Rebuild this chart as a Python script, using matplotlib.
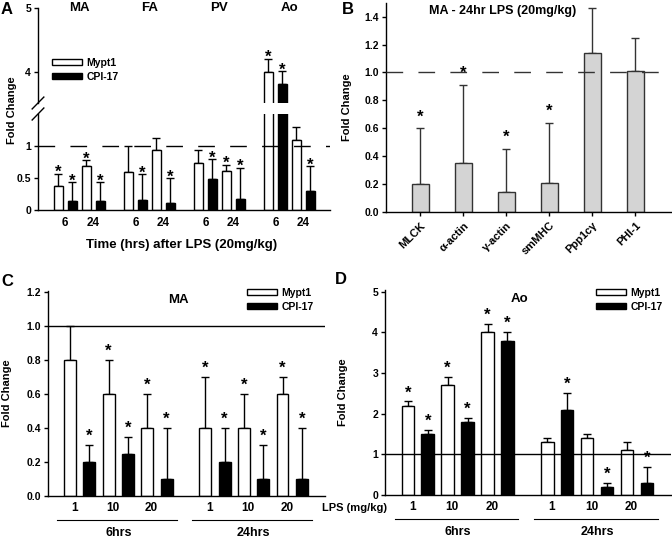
import matplotlib
matplotlib.use('Agg')
import matplotlib.pyplot as plt
import matplotlib.transforms as mtransforms
from matplotlib.patches import Patch
import numpy as np

plt.rcParams['font.family'] = ['Liberation Sans', 'DejaVu Sans']
plt.rcParams['font.weight'] = 'bold'
plt.rcParams['axes.labelweight'] = 'bold'
plt.rcParams['axes.linewidth'] = 1.0

# ---------------- data ----------------
# Panel A (20 mg/kg LPS), order of tissues
a_tissues = ['MA', 'FA', 'PV', 'Ao']
a_time_labels = ['6', '24']
a_mypt1_6h = [0.38, 0.59, 0.73, 4.00]
a_mypt1_6h_err = [0.19, 0.41, 0.20, 0.21]
a_mypt1_6h_star = [1, 0, 0, 1]
a_cpi_6h = [0.14, 0.16, 0.49, 3.82]
a_cpi_6h_err = [0.29, 0.40, 0.30, 0.19]
a_cpi_6h_star = [1, 1, 1, 1]
a_mypt1_24h = [0.68, 0.93, 0.61, 1.10]
a_mypt1_24h_err = [0.10, 0.20, 0.10, 0.20]
a_mypt1_24h_star = [1, 0, 1, 0]
a_cpi_24h = [0.14, 0.11, 0.17, 0.30]
a_cpi_24h_err = [0.29, 0.39, 0.49, 0.39]
a_cpi_24h_star = [1, 1, 1, 1]

# Panel B
b_genes = ['MLCK', 'α-actin', 'γ-actin', 'smMHC', 'Ppp1cγ', 'PHI-1']
b_vals = [0.20, 0.35, 0.14, 0.21, 1.14, 1.01]
b_err = [0.40, 0.56, 0.31, 0.43, 0.32, 0.24]
b_star = [1, 1, 1, 1, 0, 0]

# Panels C / D: doses within 6hrs and 24hrs
cd_doses = ['1', '10', '20', '1', '10', '20']
cd_groups = ['6hrs', '24hrs']
c_mypt1 = [0.8, 0.6, 0.4, 0.4, 0.4, 0.6]
c_mypt1_err = [0.2, 0.2, 0.2, 0.3, 0.2, 0.1]
c_mypt1_star = [0, 1, 1, 1, 1, 1]
c_cpi = [0.2, 0.25, 0.1, 0.2, 0.1, 0.1]
c_cpi_err = [0.1, 0.1, 0.3, 0.2, 0.2, 0.3]
c_cpi_star = [1, 1, 1, 1, 1, 1]

d_mypt1 = [2.2, 2.7, 4.0, 1.3, 1.4, 1.1]
d_mypt1_err = [0.1, 0.2, 0.2, 0.1, 0.1, 0.2]
d_mypt1_star = [1, 1, 1, 0, 0, 0]
d_cpi = [1.5, 1.8, 3.8, 2.1, 0.2, 0.3]
d_cpi_err = [0.1, 0.1, 0.2, 0.4, 0.1, 0.4]
d_cpi_star = [1, 1, 1, 1, 1, 1]

# ---------------- layout helpers ----------------
W, H = 672, 541
fig = plt.figure(figsize=(W / 100, H / 100), dpi=100)


def rect(x0, y0, x1, y1):
    return [x0 / W, 1 - y1 / H, (x1 - x0) / W, (y1 - y0) / H]


def ftext(x, y, s, **kw):
    fig.text(x / W, 1 - y / H, s, **kw)


TICK_FS = 7.5
STAR_FS = 12
DASH = (0, (12, 11))


def style_axes(ax):
    for s in ['top', 'right']:
        ax.spines[s].set_visible(False)
    ax.tick_params(axis='y', direction='out', length=3, width=1, labelsize=TICK_FS, pad=2)
    ax.tick_params(axis='x', length=0, labelsize=TICK_FS + 1)


def bars(ax, x, vals, errs, stars, color, edge='black', width=0.62, ecolor='black',
         star_off=-3.0):
    ax.bar(x, vals, width=width, color=color, edgecolor=edge, linewidth=1.0, zorder=2)
    ax.errorbar(x, vals, yerr=[np.zeros(len(vals)), errs], fmt='none', ecolor=ecolor,
                elinewidth=1.0, capsize=3, capthick=1.0, zorder=1)
    for xi, v, e, s in zip(x, vals, errs, stars):
        if s:
            ax.annotate('*', xy=(xi, v + e), xytext=(0, star_off), textcoords='offset points',
                        ha='center', va='baseline', fontsize=STAR_FS, annotation_clip=True)


# ---------------- Panel A ----------------
axA_lo = fig.add_axes(rect(38, 114, 330, 210))
axA_hi = fig.add_axes(rect(38, 8, 330, 103))
nA = len(a_tissues)
gx = np.arange(nA) * 5.0
a_series = [
    (gx + 0, a_mypt1_6h, a_mypt1_6h_err, a_mypt1_6h_star, 'white'),
    (gx + 1, a_cpi_6h, a_cpi_6h_err, a_cpi_6h_star, 'black'),
    (gx + 2, a_mypt1_24h, a_mypt1_24h_err, a_mypt1_24h_star, 'white'),
    (gx + 3, a_cpi_24h, a_cpi_24h_err, a_cpi_24h_star, 'black'),
]
for ax in (axA_lo, axA_hi):
    style_axes(ax)
    for x, v, e, s, c in a_series:
        bars(ax, x, v, e, s, c, width=0.65, star_off=-2.5)
    ax.set_xlim(-1.45, 19.4)
axA_lo.set_ylim(0, 1.5)
axA_lo.set_yticks([0, 0.5, 1])
axA_lo.set_yticklabels(['0', '0.5', '1'])
axA_lo.axhline(1.0, color='black', lw=1.0, ls=DASH, zorder=3)
xt = np.concatenate([gx + 0.5, gx + 2.5])
axA_lo.set_xticks(np.sort(xt))
axA_lo.set_xticklabels(a_time_labels * nA)
axA_lo.tick_params(axis='x', pad=5)
axA_hi.set_ylim(3.516, 5.0)
axA_hi.set_yticks([4, 5])
axA_hi.spines['bottom'].set_visible(False)
axA_hi.set_xticks([])
for g, name in zip(gx, a_tissues):
    axA_hi.text(g + 1.5, 5.0, name, ha='center', va='center', fontsize=9.5)
# break marks
d = 6 / 96
kw = dict(color='black', lw=1.0, clip_on=False)
axA_lo.plot([-0.02, 0.02], [1 - d, 1 + d], transform=axA_lo.transAxes, **kw)
axA_hi.plot([-0.02, 0.02], [-d, d], transform=axA_hi.transAxes, **kw)
ftext(12, 110, 'Fold Change', rotation=90, ha='center', va='center', fontsize=8)
ftext(182, 245, 'Time (hrs) after LPS (20mg/kg)', ha='center', va='center', fontsize=9.5)
leg_handles = [Patch(facecolor='white', edgecolor='black', lw=1.0),
               Patch(facecolor='black', edgecolor='black', lw=1.0)]
fig.legend(leg_handles, ['Mypt1', 'CPI-17'], loc='upper left',
           bbox_to_anchor=(52 / W, 1 - 58 / H), frameon=False, fontsize=7.5,
           handlelength=2.9, handleheight=0.55, handletextpad=0.4, labelspacing=0.35,
           borderpad=0, borderaxespad=0)

# ---------------- Panel B ----------------
axB = fig.add_axes(rect(386, 2.7, 671, 212))
style_axes(axB)
xb = np.arange(len(b_genes))
bars(axB, xb, b_vals, b_err, b_star, '#d4d4d4', edge='#333333', width=0.4,
     ecolor='#333333', star_off=5)
axB.axhline(1.0, color='#333333', lw=1.0, ls=DASH, zorder=3)
axB.set_xlim(-0.8, 5.83)
axB.set_ylim(0, 1.5)
axB.set_yticks(np.arange(0, 1.41, 0.2))
axB.set_yticklabels([f'{v:.1f}' for v in np.arange(0, 1.41, 0.2)])
axB.set_xticks(xb)
axB.set_xticklabels(b_genes, rotation=45, ha='right', rotation_mode='anchor')
axB.tick_params(axis='x', length=3, width=1, direction='out', pad=3, labelsize=TICK_FS + 0.5)
axB.set_ylabel('Fold Change', fontsize=8)
axB.yaxis.set_label_coords(-0.12, 0.5)
axB.text(0.41, 0.96, 'MA - 24hr LPS (20mg/kg)', transform=axB.transAxes,
         ha='center', va='center', fontsize=9)


# ---------------- Panels C and D ----------------
def dose_panel(r, mv, me, ms, cv, ce, cs, ylim, yticks, yfmt, title, legend_xy, star_off):
    ax = fig.add_axes(rect(*r))
    style_axes(ax)
    pos_m = np.array([0, 2, 4, 7, 9, 11], dtype=float)
    pos_c = pos_m + 1
    bars(ax, pos_m, mv, me, ms, 'white', width=0.62, star_off=star_off)
    bars(ax, pos_c, cv, ce, cs, 'black', width=0.62, star_off=star_off)
    ax.axhline(1.0, color='black', lw=1.0, zorder=3)
    ax.set_xlim(-1.14, 13.2)
    ax.set_ylim(*ylim)
    ax.set_yticks(yticks)
    ax.set_yticklabels([yfmt.format(v) for v in yticks])
    ax.set_xticks(pos_m + 0.22)
    ax.set_xticklabels(cd_doses)
    ax.tick_params(axis='x', pad=4)
    ax.set_ylabel('Fold Change', fontsize=8)
    ax.yaxis.set_label_coords(-0.13, 0.5)
    ax.text(0.47, 0.955, title, transform=ax.transAxes, ha='center', va='center', fontsize=9.5)
    trans = mtransforms.blended_transform_factory(ax.transData, ax.transAxes)
    for gi, name in enumerate(cd_groups):
        first = pos_m[gi * 3]
        last = pos_c[gi * 3 + 2]
        ax.plot([first - 0.66, last + 0.55], [-0.115, -0.115], color='black', lw=0.8,
                transform=trans, clip_on=False)
        ax.text((first + last) / 2, -0.18, name, transform=trans, ha='center',
                va='center', fontsize=9)
    ax.legend(leg_handles, ['Mypt1', 'CPI-17'], loc='upper left',
              bbox_to_anchor=legend_xy, bbox_transform=fig.transFigure, frameon=False,
              fontsize=7.5, handlelength=2.9, handleheight=0.55, handletextpad=0.4,
              labelspacing=0.35, borderpad=0, borderaxespad=0)
    return ax


dose_panel((48, 290.7, 325, 496), c_mypt1, c_mypt1_err, c_mypt1_star,
           c_cpi, c_cpi_err, c_cpi_star, (0, 1.21), np.arange(0, 1.21, 0.2), '{:.1f}',
           'MA', (247 / W, 1 - 288 / H), 3)
dose_panel((385, 289.7, 671, 495), d_mypt1, d_mypt1_err, d_mypt1_star,
           d_cpi, d_cpi_err, d_cpi_star, (0, 5.05), [0, 1, 2, 3, 4, 5], '{:d}',
           'Ao', (596 / W, 1 - 288 / H), 3)

ftext(355, 508, 'LPS (mg/kg)', ha='center', va='center', fontsize=8)

# panel letters
for x, y, s in [(7, 10, 'A'), (348, 10, 'B'), (7, 282, 'C'), (341, 280, 'D')]:
    ftext(x, y, s, ha='center', va='center', fontsize=12)

fig.savefig('out.png', dpi=100)
